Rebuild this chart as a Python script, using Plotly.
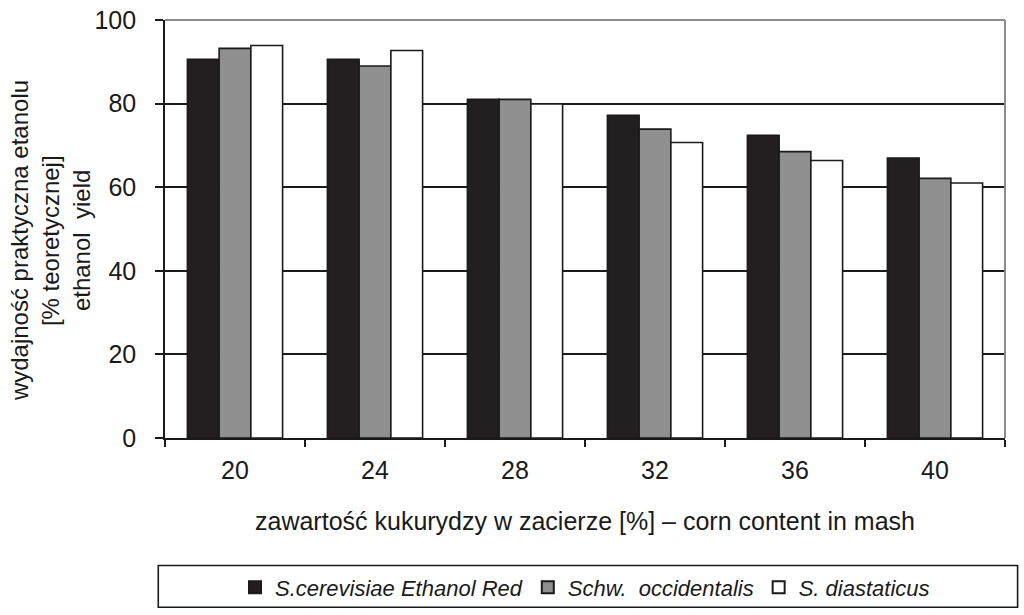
import plotly.graph_objects as go

categories = ["20", "24", "28", "32", "36", "40"]
series_names = ["S.cerevisiae Ethanol Red", "Schw.  occidentalis", "S. diastaticus"]
cerevisiae = [90.6, 90.6, 81.0, 77.2, 72.4, 67.0]
occidentalis = [93.2, 89.0, 81.0, 73.9, 68.5, 62.1]
diastaticus = [93.9, 92.7, 79.9, 70.7, 66.4, 61.0]
y_ticks = [0, 20, 40, 60, 80, 100]
y_title_lines = ["wydajność praktyczna etanolu", "[% teoretycznej]", "ethanol  yield"]
x_title = "zawartość kukurydzy w zacierze [%] – corn content in mash"

colors = ["#231f20", "#8f8f8f", "#ffffff"]
font_family = "Liberation Sans, Arial, sans-serif"

fig = go.Figure()
for name, vals, col in zip(series_names, [cerevisiae, occidentalis, diastaticus], colors):
    fig.add_trace(go.Bar(
        x=categories, y=vals, name=name,
        marker=dict(color=col, line=dict(color="#1a1a1a", width=1.6)),
    ))

fig.update_layout(
    width=1024, height=615,
    margin=dict(l=165, r=19, t=20, b=177, autoexpand=False),
    paper_bgcolor="white", plot_bgcolor="white",
    barmode="group", bargap=0.32, bargroupgap=0,
    font=dict(family=font_family, color="#1a1a1a"),
    showlegend=True,
    legend=dict(
        orientation="h", x=0.5, xanchor="center",
        yref="container", y=0.045, yanchor="middle",
        font=dict(size=22, family=font_family, style="italic"),
        bgcolor="rgba(0,0,0,0)", borderwidth=0,
        itemsizing="constant", traceorder="normal",
        itemwidth=30,
    ),
)

fig.update_xaxes(
    type="category", automargin=False,
    showline=True, linecolor="#1a1a1a", linewidth=1.6,
    ticks="outside", tickson="boundaries", ticklen=7, tickcolor="#1a1a1a", tickwidth=1.6,
    tickfont=dict(size=25), ticklabelstandoff=9,
    title=dict(text=x_title, font=dict(size=25), standoff=30),
    showgrid=False, zeroline=False,
)
fig.update_yaxes(
    range=[0, 100], tickvals=y_ticks, automargin=False,
    showline=True, linecolor="#1a1a1a", linewidth=1.6,
    ticks="outside", ticklen=8, tickcolor="#1a1a1a", tickwidth=1.6,
    tickfont=dict(size=25), ticklabelstandoff=14,
    showgrid=True, gridcolor="#1a1a1a", gridwidth=1.6,
    zeroline=False,
)

# multi-line y axis title, tightly spaced
for line, px in zip(y_title_lines, [19, 50, 81]):
    fig.add_annotation(
        text=line, xref="paper", yref="paper", x=0, y=0.471,
        xshift=px - 165, xanchor="center", yanchor="middle",
        textangle=-90, showarrow=False, font=dict(size=24, family=font_family),
    )

# gray top and right frame of the plot area
fig.add_shape(type="line", xref="paper", yref="paper", x0=0, x1=1, y0=1, y1=1,
              line=dict(color="#8a8a8a", width=2), layer="above")
fig.add_shape(type="line", xref="paper", yref="paper", x0=1, x1=1, y0=0, y1=1,
              line=dict(color="#8a8a8a", width=2), layer="above")
# legend box
fig.add_shape(type="rect", xref="paper", yref="paper",
              x0=-0.008, x1=1.015, y0=-0.405, y1=-0.305,
              line=dict(color="#1a1a1a", width=1.6), fillcolor="rgba(0,0,0,0)")

fig.write_html("out.html")
